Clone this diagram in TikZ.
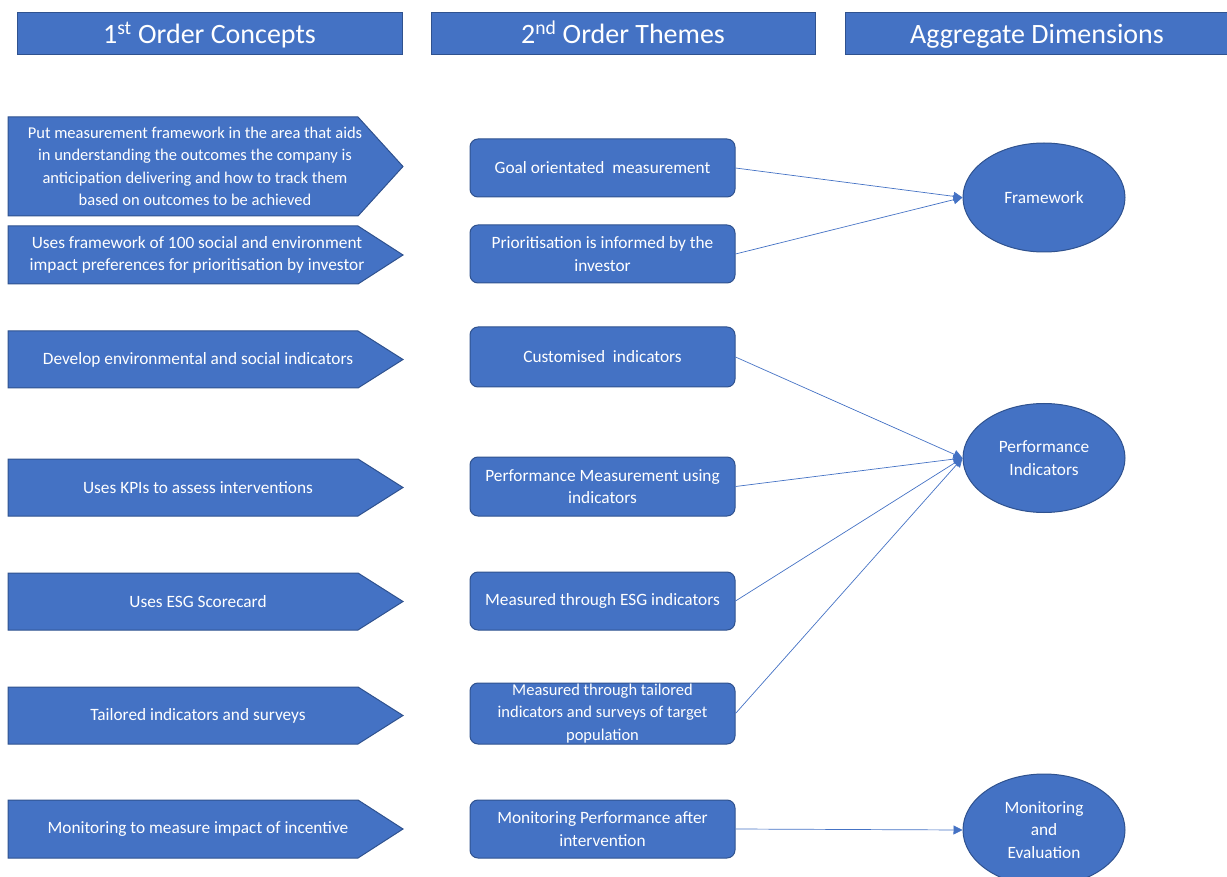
\documentclass[tikz,border=0pt]{standalone}
\usepackage{fontspec}
\setmainfont{Carlito}
\usetikzlibrary{shapes.geometric,arrows.meta}
\definecolor{boxfill}{RGB}{68,114,196}
\definecolor{boxline}{RGB}{47,82,143}
\tikzset{
  header/.style={draw=boxline,fill=boxfill,text=white,minimum height=42pt,inner sep=0pt,text height=25pt,text depth=6pt,font=\fontsize{28}{32}\selectfont},
  arrowbox/.style={draw=boxline,fill=boxfill},
  ctext/.style={text=white,align=center,inner sep=0pt,font=\fontsize{17.3}{22.5}\selectfont},
  theme/.style={draw=boxline,fill=boxfill,rounded corners=8pt,text=white,align=center,minimum width=265pt,minimum height=58pt,inner sep=0pt,font=\fontsize{17.3}{22.5}\selectfont},
  dimension/.style={ellipse,draw=boxline,fill=boxfill,text=white,align=center,minimum width=162pt,minimum height=109pt,inner sep=0pt,font=\fontsize{17.3}{22.5}\selectfont},
  conn/.style={draw=boxfill,-{Triangle[length=9pt,width=9pt]}}
}
\begin{document}
\begin{tikzpicture}[x=1pt,y=-1pt,line width=1pt]
\useasboundingbox (0,0) rectangle (1227,877);
\begin{scope}
\clip (0,0) rectangle (1227,877);
% headers
\node[header,minimum width=385pt] (h1) at (209.5,34) {1\textsuperscript{st} Order Concepts};
\node[header,minimum width=384pt] (h2) at (623,34) {2\textsuperscript{nd} Order Themes};
\node[header,minimum width=384pt] (h3) at (1037,34) {Aggregate Dimensions};
% 1st order concepts
\draw[arrowbox] (8,117) -- (358,117) -- (403,166.5) -- (358,216) -- (8,216) -- cycle;
\node[ctext,font=\fontsize{16.5}{22.5}\selectfont] (c1) at (195,166.5) {Put measurement framework in the area that aids\\in understanding the outcomes the company is\\anticipation delivering and how to track them\\based on outcomes to be achieved};
\draw[arrowbox] (8,226) -- (358,226) -- (403,255) -- (358,284) -- (8,284) -- cycle;
\node[ctext] (c2) at (197,255) {Uses framework of 100 social and environment\\impact preferences for prioritisation by investor};
\draw[arrowbox] (8,331) -- (358,331) -- (403,359.5) -- (358,388) -- (8,388) -- cycle;
\node[ctext] (c3) at (198,359.5) {Develop environmental and social indicators};
\draw[arrowbox] (8,459) -- (358,459) -- (403,487.5) -- (358,516) -- (8,516) -- cycle;
\node[ctext] (c4) at (198,487.5) {Uses KPIs to assess interventions};
\draw[arrowbox] (8,573) -- (358,573) -- (403,601.5) -- (358,630) -- (8,630) -- cycle;
\node[ctext] (c5) at (198,601.5) {Uses ESG Scorecard};
\draw[arrowbox] (8,687) -- (358,687) -- (403,715.5) -- (358,744) -- (8,744) -- cycle;
\node[ctext] (c6) at (198,715.5) {Tailored indicators and surveys};
\draw[arrowbox] (8,800) -- (358,800) -- (403,829) -- (358,858) -- (8,858) -- cycle;
\node[ctext] (c7) at (198,829) {Monitoring to measure impact of incentive};
% 2nd order themes
\node[theme] (t1) at (602.5,168) {Goal orientated\ \ measurement};
\node[theme] (t2) at (602.5,254) {Prioritisation is informed by the\\investor};
\node[theme,minimum height=60pt] (t3) at (602.5,357) {Customised\ \ indicators};
\node[theme,minimum height=59pt] (t4) at (602.5,486.5) {Performance Measurement using\\indicators};
\node[theme] (t5) at (602.5,601) {Measured through ESG indicators};
\node[theme,minimum height=61pt,font=\fontsize{16.5}{22.5}\selectfont] (t6) at (602.5,713.5) {Measured through tailored\\indicators and surveys of target\\population};
\node[theme] (t7) at (602.5,829) {Monitoring Performance after\\intervention};
% aggregate dimensions
\node[dimension] (d1) at (1044,197.5) {Framework};
\node[dimension] (d2) at (1044,458) {Performance\\Indicators};
\node[dimension,minimum height=112pt] (d3) at (1044,830) {Monitoring\\and\\Evaluation};
\end{scope}
% connectors
\begin{scope}[line width=0.7pt]
\draw[conn] (t1.east) -- (d1.west);
\draw[conn] (t2.east) -- (d1.west);
\draw[conn] (t3.east) -- (d2.west);
\draw[conn] (t4.east) -- (d2.west);
\draw[conn] (t5.east) -- (d2.west);
\draw[conn] (t6.east) -- (d2.west);
\draw[conn] (t7.east) -- (d3.west);
\end{scope}
\end{tikzpicture}
\end{document}
